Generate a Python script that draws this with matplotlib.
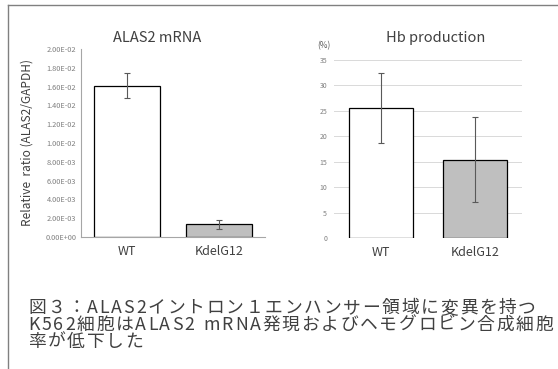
import matplotlib
matplotlib.use("Agg")
import matplotlib.pyplot as plt
from matplotlib.lines import Line2D

plt.rcParams['font.family'] = ['Noto Sans CJK JP', 'DejaVu Sans']

categories = ["WT", "KdelG12"]
mrna_values = [0.0161, 0.00135]
mrna_errors = [0.0013, 0.0005]
hb_values = [25.6, 15.4]
hb_errors = [6.9, 8.3]
mrna_ticks = [i * 0.002 for i in range(11)]
hb_ticks = [0, 5, 10, 15, 20, 25, 30, 35]
caption_lines = ["図３：ALAS2イントロン１エンハンサー領域に変異を持つ",
                 "K562細胞はALAS2 mRNA発現およびヘモグロビン合成細胞",
                 "率が低下した"]

W, H = 558, 369
fig = plt.figure(figsize=(W / 100, H / 100), dpi=100)
fig.patch.set_facecolor("white")

def box(x0, x1, y_top, y_bot):
    return [x0 / W, 1 - y_bot / H, (x1 - x0) / W, (y_bot - y_top) / H]

bar_colors = ["white", "#bfbfbf"]
tick_gray = "#7f7f7f"
text_gray = "#404040"

# left chart
ax1 = fig.add_axes(box(81, 265, 49, 237))
ax1.bar(range(2), mrna_values, width=0.72, color=bar_colors, edgecolor="black", linewidth=0.9)
ax1.errorbar(range(2), mrna_values, yerr=mrna_errors, fmt="none", ecolor="#595959",
             elinewidth=0.8, capsize=2.5, capthick=0.8)
ax1.set_ylim(0, 0.02)
ax1.set_xlim(-0.5, 1.5)
ax1.set_yticks(mrna_ticks)
ax1.set_yticklabels(["%.2E" % t for t in mrna_ticks], fontsize=5.3, color=tick_gray)
ax1.set_xticks(range(2))
ax1.set_xticklabels(categories, fontsize=9, color=text_gray)
ax1.tick_params(axis="y", length=0, pad=3.5)
ax1.tick_params(axis="x", length=0, pad=6)
for s in ["top", "right"]:
    ax1.spines[s].set_visible(False)
for s in ["left", "bottom"]:
    ax1.spines[s].set_color("#a6a6a6")
    ax1.spines[s].set_linewidth(0.8)
ax1.set_ylabel("Relative  ratio (ALAS2/GAPDH)", fontsize=8.6, color=text_gray, labelpad=8)
fig.text(157 / W, 1 - 42 / H, "ALAS2 mRNA", fontsize=10.5, color=text_gray,
         ha="center", va="baseline")

# right chart
ax2 = fig.add_axes(box(334, 522, 60, 238))
ax2.set_axisbelow(True)
ax2.yaxis.grid(True, color="#d9d9d9", linewidth=0.7)
ax2.bar(range(2), hb_values, width=0.69, color=bar_colors, edgecolor="black", linewidth=0.9)
ax2.errorbar(range(2), hb_values, yerr=hb_errors, fmt="none", ecolor="#595959",
             elinewidth=0.8, capsize=2.5, capthick=0.8)
ax2.set_ylim(0, 35)
ax2.set_xlim(-0.5, 1.5)
ax2.set_yticks(hb_ticks)
ax2.set_yticklabels([str(t) for t in hb_ticks], fontsize=5, color=tick_gray)
ax2.set_xticks(range(2))
ax2.set_xticklabels(categories, fontsize=9, color=text_gray)
ax2.tick_params(axis="y", length=0, pad=5)
ax2.tick_params(axis="x", length=0, pad=6)
for s in ["top", "right", "left", "bottom"]:
    ax2.spines[s].set_visible(False)
fig.text(436 / W, 1 - 42 / H, "Hb production", fontsize=10.5, color=text_gray,
         ha="center", va="baseline")
fig.text(324 / W, 1 - 46 / H, "(%)", fontsize=6, color="#595959", ha="center", va="center")

# frame lines
fig.add_artist(Line2D([8 / W, 1], [1 - 5 / H, 1 - 5 / H], color="#808080", linewidth=1))
fig.add_artist(Line2D([8 / W, 8 / W], [0, 1 - 5 / H], color="#808080", linewidth=1))

# caption, laid out glyph by glyph to mimic the wide tracking of the original
renderer = fig.canvas.get_renderer()
baselines = [313, 330, 347]
for line, base in zip(caption_lines, baselines):
    x = 28.0
    for ch in line:
        t = fig.text(x / W, 1 - base / H, ch, fontsize=12.8, color=text_gray,
                     ha="left", va="baseline")
        if ord(ch) < 128:
            x += (5.0 if ch == " " else t.get_window_extent(renderer).width) + 1.9
        else:
            x += max(19.5, t.get_window_extent(renderer).width + 0.5)

fig.savefig("out.png", dpi=100)
